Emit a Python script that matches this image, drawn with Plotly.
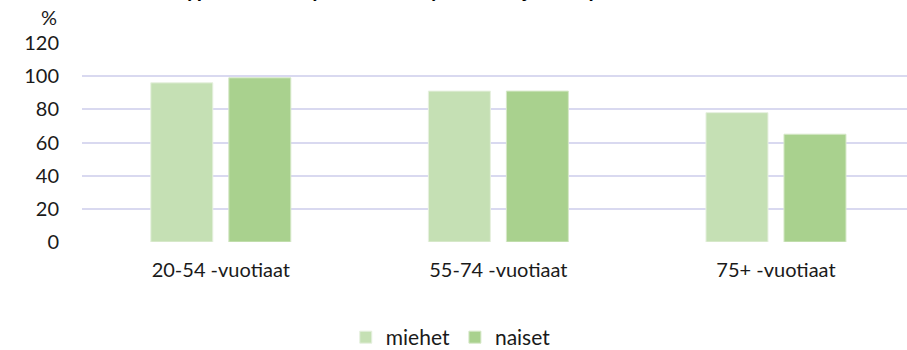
import plotly.graph_objects as go

# Data
categories = ["20-54 -vuotiaat", "55-74 -vuotiaat", "75+ -vuotiaat"]
miehet = [96, 91, 78]
naiset = [99, 91, 65]
y_ticks = [0, 20, 40, 60, 80, 100, 120]
title_text = "Älypuhelinta käyttäneet ikäryhmittäin ja sukupuolen mukaan"

FONT = "Lato"
TEXT = "#1a1a1a"

fig = go.Figure()
fig.add_trace(go.Bar(name="miehet", x=categories, y=miehet,
                     marker=dict(color="#C5E0B4", line=dict(color="#E6F0DF", width=1))))
fig.add_trace(go.Bar(name="naiset", x=categories, y=naiset,
                     marker=dict(color="#A9D18E", line=dict(color="#D6E8C8", width=1))))

fig.update_layout(
    width=907, height=350,
    margin=dict(l=82, r=0, t=43, b=108, autoexpand=False),
    plot_bgcolor="white", paper_bgcolor="white",
    barmode="group", bargap=0.438, bargroupgap=0.205,
    font=dict(family=FONT, size=20, color=TEXT),
    showlegend=True,
    legend=dict(orientation="h", x=0.447, xanchor="center", y=-0.48, yanchor="middle",
                font=dict(size=21), traceorder="normal"),
    xaxis=dict(type="category", range=[-0.5, 2.472], showgrid=False, zeroline=False,
               showline=False, ticks="", ticklabelstandoff=14, tickfont=dict(size=20)),
    yaxis=dict(range=[0, 120], tickvals=y_ticks, showgrid=True, gridcolor="#D9D9F0",
               gridwidth=1.5, zeroline=False, showline=False, ticks="",
               ticklabelstandoff=22, tickfont=dict(size=20)),
)

# Axis unit label
fig.add_annotation(text="%", xref="paper", yref="paper", x=-0.028, y=1.133,
                   xanchor="right", yanchor="middle", showarrow=False,
                   font=dict(size=20, family=FONT, color=TEXT))

# Chart title
fig.add_annotation(text="<b>" + title_text + "</b>", xref="paper", yref="paper",
                   x=0.444, y=1.275, xanchor="center", yanchor="middle",
                   showarrow=False, font=dict(size=21, family=FONT, color="#000000"))

fig.write_html("out.html")
